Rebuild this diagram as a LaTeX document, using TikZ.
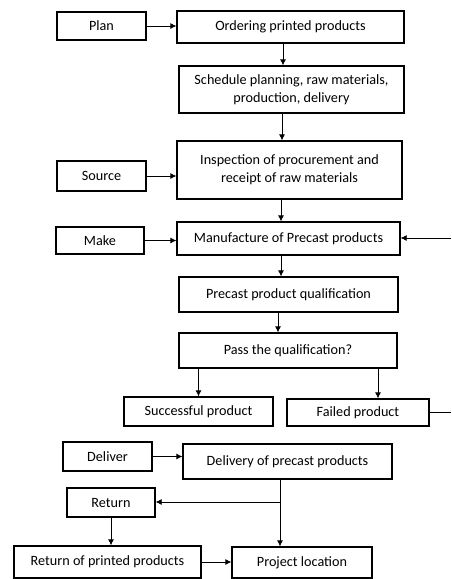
\documentclass[tikz,border=0pt]{standalone}
\usepackage{fontspec}
\setmainfont{Carlito}
\usetikzlibrary{arrows.meta}

\begin{document}
\begin{tikzpicture}[
    x=1pt,
    y=-1pt,
    font=\fontsize{14.2}{18}\selectfont,
    >={Latex[length=6pt, width=6pt]},
    stufe/.style={
      draw,
      rectangle,
      line width=1.3pt,
      inner sep=0,
      align=center
    },
    kategorie/.style={stufe, minimum width=89, minimum height=29},
    pfeil/.style={->, line width=0.8pt}]
   \useasboundingbox (0,0) rectangle (451,579);

   \path
     node(plan)     at (101.5, 26)   [kategorie, minimum height=28] {Plan}
     node(source)   at (101.5,176)   [kategorie, minimum height=30] {Source}
     node(make)     at (100,240.5)   [kategorie, minimum width=88, minimum height=27] {Make}
     node(deliver)  at (107.5,456.5) [kategorie] {Deliver}
     node(return)   at (111,502.5)   [kategorie, minimum width=88] {Return};

   \path
     node(order)    at (290.5, 27)   [stufe, minimum width=227, minimum height=32] {Ordering printed products}
     node(sched)    at (291.5,89.5)  [stufe, minimum width=225, minimum height=47] {Schedule planning, raw materials,\\production, delivery}
     node(insp)     at (289.5,170)   [stufe, minimum width=225, minimum height=58] {Inspection of procurement and\\receipt of raw materials}
     node(manuf)    at (288.5,238.5) [stufe, minimum width=223, minimum height=33] {Manufacture of Precast products}
     node(qual)     at (288.5,294.5) [stufe, minimum width=219, minimum height=35] {Precast product qualification}
     node(pass)     at (288,350.5)   [stufe, minimum width=218, minimum height=35] {Pass the qualification?}
     node(succ)     at (198.5,411.5) [stufe, minimum width=149, minimum height=29] {Successful product}
     node(fail)     at (358,412.5)   [stufe, minimum width=142, minimum height=27] {Failed product}
     node(delivery) at (287.5,461.5) [stufe, minimum width=209, minimum height=35] {Delivery of precast products}
     node(retprint) at (107.5,562)   [stufe, minimum width=187, minimum height=32] {Return of printed products}
     node(project)  at (302,562.5)   [stufe, minimum width=140, minimum height=31] {Project location};

   % Rueckfuehrung laeuft rechts aus dem Bild
   \coordinate (rein)  at (451,238);
   \coordinate (raus)  at (451,413);
   \coordinate (abzw)  at (280,502);

   \begin{scope}[pfeil]
     \draw (plan.east) -- (plan.east -| order.west);
     \draw (source.east) -- (source.east -| insp.west);
     \draw (make.east) -- (make.east -| manuf.west);
     \draw (deliver.east) -- (deliver.east -| delivery.west);
     \draw (order.south -| 283,0) -- (sched.north -| 283,0);
     \draw (sched.south -| 282,0) -- (insp.north -| 282,0);
     \draw (insp.south -| 281,0) -- (manuf.north -| 281,0);
     \draw (manuf.south -| 281,0) -- (qual.north -| 281,0);
     \draw (qual.south -| 278,0) -- (pass.north -| 278,0);
     \draw (pass.south -| succ.north) -- (succ.north);
     \draw (pass.south -| 378,0) -- (fail.north -| 378,0);
     \draw (rein) -- (rein -| manuf.east);
     \draw (delivery.south -| abzw) -- (project.north -| abzw);
     \draw (abzw) -- (abzw -| return.east);
     \draw (return.south) -- (return.south |- retprint.north);
     \draw (retprint.east) -- (retprint.east -| project.west);
   \end{scope}
   \draw[line width=0.8pt] (fail.east) -- (fail.east -| raus);
\end{tikzpicture}
\end{document}
